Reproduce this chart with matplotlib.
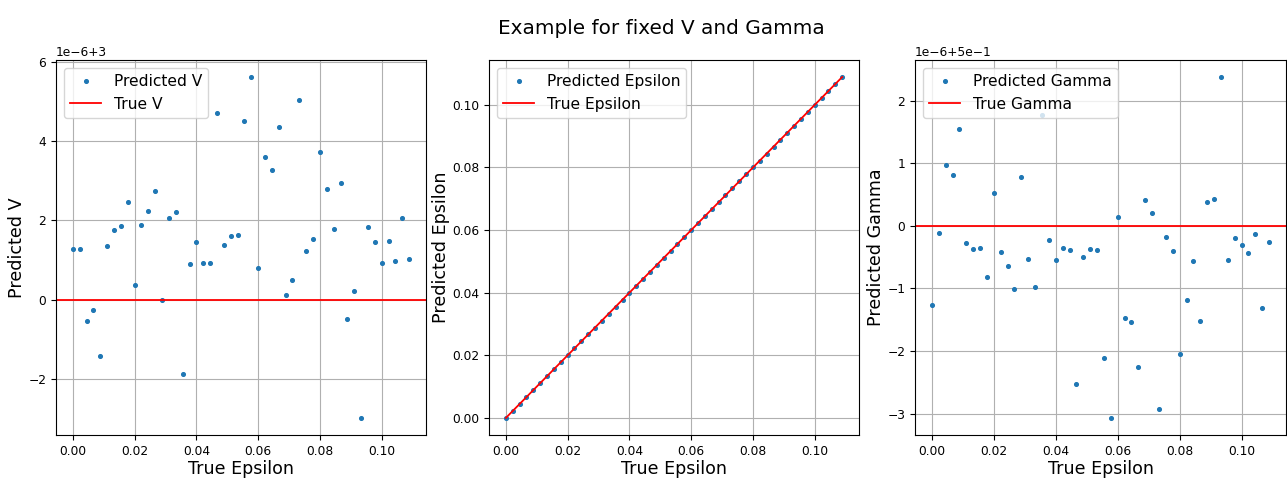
import matplotlib
matplotlib.use("Agg")
import matplotlib.pyplot as plt

# True epsilon values (x axis)
eps_true = [0.00000, 0.00222, 0.00444, 0.00667, 0.00889, 0.01111, 0.01333, 0.01556, 0.01778, 0.02000,
            0.02222, 0.02444, 0.02667, 0.02889, 0.03111, 0.03333, 0.03556, 0.03778, 0.04000, 0.04222,
            0.04444, 0.04667, 0.04889, 0.05111, 0.05333, 0.05556, 0.05778, 0.06000, 0.06222, 0.06444,
            0.06667, 0.06889, 0.07111, 0.07333, 0.07556, 0.07778, 0.08000, 0.08222, 0.08444, 0.08667,
            0.08889, 0.09111, 0.09333, 0.09556, 0.09778, 0.10000, 0.10222, 0.10444, 0.10667, 0.10889]

# Predicted V deviations (units of 1e-6, around V = 3)
true_v = 3.0
pred_v_dev = [1.28, 1.29, -0.52, -0.25, -1.40, 1.36, 1.75, 1.87, 2.47, 0.38,
              1.89, 2.25, 2.75, -0.01, 2.07, 2.21, -1.87, 0.90, 1.46, 0.94,
              0.92, 4.70, 1.38, 1.61, 1.64, 4.50, 5.61, 0.80, 3.61, 3.26,
              4.36, 0.13, 0.49, 5.03, 1.24, 1.53, 3.72, 2.79, 1.78, 2.95,
              -0.49, 0.23, -2.97, 1.83, 1.46, 0.94, 1.48, 0.98, 2.05, 1.03]

# Predicted epsilon
pred_eps = list(eps_true)

# Predicted Gamma deviations (units of 1e-6, around Gamma = 0.5)
true_gamma = 0.5
pred_gamma_dev = [-1.27, -0.11, 0.97, 0.81, 1.55, -0.27, -0.37, -0.35, -0.82, 0.52,
                  -0.42, -0.64, -1.01, 0.79, -0.53, -0.98, 1.77, -0.22, -0.55, -0.35,
                  -0.38, -2.53, -0.49, -0.37, -0.38, -2.11, -3.07, 0.14, -1.48, -1.54,
                  -2.25, 0.41, 0.20, -2.93, -0.18, -0.40, -2.04, -1.19, -0.56, -1.52,
                  0.38, 0.43, 2.38, -0.54, -0.19, -0.31, -0.43, -0.13, -1.32, -0.25]

pred_v = [true_v + d * 1e-6 for d in pred_v_dev]
pred_gamma = [true_gamma + d * 1e-6 for d in pred_gamma_dev]

TICK_FS = 8.8
LEG_FS = 11.2
LAB_FS = 12.6
MS = 5.3
LW = 1.3

fig = plt.figure(figsize=(12.87, 4.79), dpi=100)
W, H = 1287, 479
def pos(l, r, t, b):
    return [l / W, (H - b) / H, (r - l) / W, (b - t) / H]

ax1 = fig.add_axes(pos(56, 426, 60, 435))
ax2 = fig.add_axes(pos(489, 859, 60, 435))
ax3 = fig.add_axes(pos(915, 1286, 60, 435))

ax1.plot(eps_true, pred_v, '.', ms=MS, label='Predicted V')
ax1.axhline(true_v, color='red', lw=LW, label='True V')
ax1.set_ylabel('Predicted V', fontsize=LAB_FS, labelpad=1.5)

ax2.plot(eps_true, pred_eps, '.', ms=MS, label='Predicted Epsilon')
ax2.plot(eps_true, eps_true, color='red', lw=LW, label='True Epsilon')
ax2.set_ylabel('Predicted Epsilon', fontsize=LAB_FS, labelpad=1.5)

ax3.plot(eps_true, pred_gamma, '.', ms=MS, label='Predicted Gamma')
ax3.axhline(true_gamma, color='red', lw=LW, label='True Gamma')
ax3.set_ylabel('Predicted Gamma', fontsize=LAB_FS, labelpad=1.5)

for ax in (ax1, ax2, ax3):
    ax.set_xlabel('True Epsilon', fontsize=LAB_FS, labelpad=1.5)
    ax.grid(True)
    ax.tick_params(labelsize=TICK_FS)
    ax.yaxis.get_offset_text().set_fontsize(TICK_FS)
    ax.legend(loc='upper left', fontsize=LEG_FS)

fig.suptitle('Example for fixed V and Gamma', fontsize=14.4, x=0.514, y=0.96)

fig.savefig('out.png', dpi=100)
